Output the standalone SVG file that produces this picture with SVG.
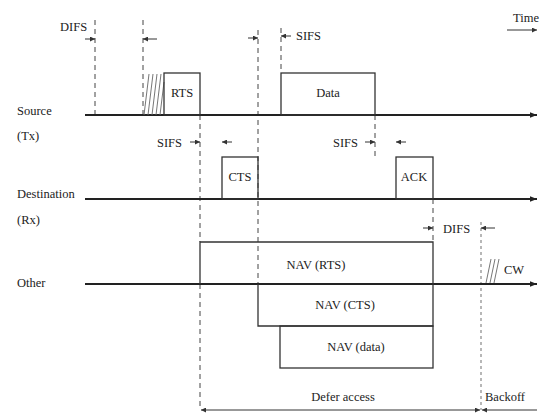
<svg xmlns="http://www.w3.org/2000/svg" width="541" height="414" viewBox="0 0 541 414">
<defs>
<marker id="ah" viewBox="0 0 10 10" refX="10" refY="5" markerWidth="7" markerHeight="7" markerUnits="userSpaceOnUse" orient="auto"><path d="M0,1 L10,5 L0,9 z" fill="#222"/></marker>
<marker id="ahs" viewBox="0 0 10 10" refX="10" refY="5" markerWidth="6" markerHeight="5" markerUnits="userSpaceOnUse" orient="auto"><path d="M0,0 L10,5 L0,10 z" fill="#333"/></marker>
</defs>
<style>
text{font-family:'Liberation Serif','Times New Roman','DejaVu Serif',serif;font-size:12.5px;fill:#222}
.ax{stroke:#222;stroke-width:1.8;fill:none}
.box{stroke:#333;stroke-width:1.3;fill:none}
.dash{stroke:#444;stroke-width:1;stroke-dasharray:5,4;fill:none}
.dot{stroke:#999;stroke-width:1.4;stroke-dasharray:3,3;fill:none}
.sm{stroke:#333;stroke-width:1;fill:none}
.hatch{stroke:#666;stroke-width:0.9;fill:none}
.mid{text-anchor:middle}
</style>
<rect width="541" height="414" fill="#fff"/>
<g id="connectors">
<line class="dash" x1="95" y1="20" x2="95" y2="115"/>
<line class="dash" x1="143" y1="20" x2="143" y2="115"/>
<line class="dash" x1="258" y1="30" x2="258" y2="284"/>
<line class="dash" x1="281" y1="28" x2="281" y2="72"/>
<line class="dash" x1="200" y1="115" x2="200" y2="242"/>
<line class="dash" x1="200" y1="284" x2="200" y2="410"/>
<line class="dash" x1="375" y1="115" x2="375" y2="156"/>
<line class="dash" x1="433" y1="199" x2="433" y2="242"/>
<line class="dot" x1="481" y1="222" x2="481" y2="410"/>
<line class="sm" x1="85" y1="39" x2="95" y2="39" marker-end="url(#ahs)"/>
<line class="sm" x1="157" y1="39" x2="143" y2="39" marker-end="url(#ahs)"/>
<line class="sm" x1="248" y1="38" x2="258" y2="38" marker-end="url(#ahs)"/>
<line class="sm" x1="291" y1="36" x2="281" y2="36" marker-end="url(#ahs)"/>
<line class="sm" x1="190" y1="142" x2="200" y2="142" marker-end="url(#ahs)"/>
<line class="sm" x1="232" y1="142" x2="222" y2="142" marker-end="url(#ahs)"/>
<line class="sm" x1="365" y1="142" x2="375" y2="142" marker-end="url(#ahs)"/>
<line class="sm" x1="406" y1="142" x2="396" y2="142" marker-end="url(#ahs)"/>
<line class="sm" x1="423" y1="228" x2="433" y2="228" marker-end="url(#ahs)"/>
<line class="sm" x1="495" y1="228" x2="481" y2="228" marker-end="url(#ahs)"/>
<line class="sm" x1="507" y1="30" x2="537" y2="30" marker-end="url(#ahs)"/>
<line class="sm" x1="340" y1="410" x2="201" y2="410" marker-end="url(#ahs)"/>
<line class="sm" x1="340" y1="410" x2="480" y2="410" marker-end="url(#ahs)"/>
<line class="sm" x1="537" y1="410" x2="482" y2="410" marker-end="url(#ahs)"/>
</g>
<g id="axes">
<line class="ax" x1="85" y1="115" x2="537" y2="115" marker-end="url(#ah)"/>
<line class="ax" x1="85" y1="199" x2="537" y2="199" marker-end="url(#ah)"/>
<line class="ax" x1="85" y1="284" x2="537" y2="284" marker-end="url(#ah)"/>
</g>
<g id="labels">
<text x="60" y="31">DIFS</text>
<text x="296" y="40">SIFS</text>
<text x="513" y="22">Time</text>
<text x="17" y="115">Source</text>
<text x="17" y="140">(Tx)</text>
<text x="157" y="147">SIFS</text>
<text x="333" y="147">SIFS</text>
<text x="17" y="198">Destination</text>
<text x="17" y="224">(Rx)</text>
<text x="443" y="233">DIFS</text>
<text x="17" y="287">Other</text>
</g>
<g id="rts">
<path class="hatch" d="M144,115 L149,74 M148,115 L153,74 M152,115 L157,74 M156,115 L161,74 M160,115 L164,82"/>
<rect class="box" x="164" y="73" width="36" height="42"/>
<text class="mid" x="182" y="97">RTS</text>
</g>
<g id="data">
<rect class="box" x="281" y="73" width="94" height="42"/>
<text class="mid" x="328" y="97">Data</text>
</g>
<g id="cts">
<rect class="box" x="222" y="157" width="36" height="42"/>
<text class="mid" x="240" y="181">CTS</text>
</g>
<g id="ack">
<rect class="box" x="396" y="157" width="37" height="42"/>
<text class="mid" x="414" y="181">ACK</text>
</g>
<g id="nav-rts">
<path class="box" d="M200,284 L200,242 L433,242 L433,284"/>
<text class="mid" x="316" y="269">NAV (RTS)</text>
</g>
<g id="nav-cts">
<path class="box" d="M258,284 L258,326 L433,326 L433,284"/>
<text class="mid" x="345" y="309">NAV (CTS)</text>
</g>
<g id="nav-data">
<rect class="box" x="280" y="326" width="153" height="42"/>
<text class="mid" x="356" y="351">NAV (data)</text>
</g>
<g id="cw">
<path class="hatch" d="M486,283 L491,259 M490,283 L495,259 M494,283 L499,259"/>
<text x="504" y="274">CW</text>
</g>
<g id="bottom">
<text class="mid" x="343" y="401">Defer access</text>
<text x="485" y="401">Backoff</text>
</g>
</svg>
